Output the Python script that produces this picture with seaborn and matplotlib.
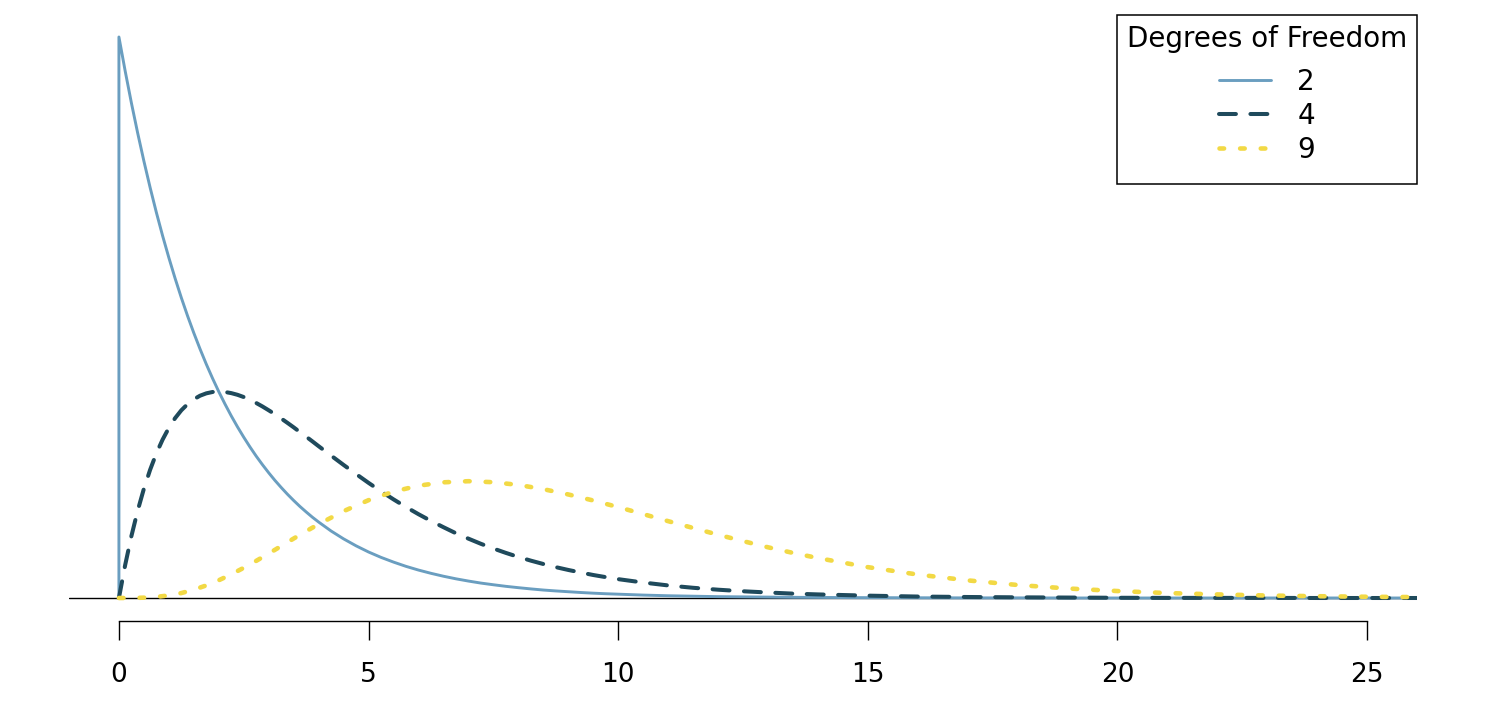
import numpy as np
import pandas as pd
import matplotlib
matplotlib.use("Agg")
import matplotlib.pyplot as plt
import seaborn as sns

# ---- data (chi-square densities) ----
# fine grid used for the df = 2 and df = 4 curves
x_fine = [0, 0.125, 0.25, 0.375, 0.5, 0.625, 0.75, 0.875, 1, 1.125, 1.25, 1.375, 1.5, 1.625,
          1.75, 1.875, 2, 2.125, 2.25, 2.375, 2.5, 2.625, 2.75, 2.875, 3, 3.125, 3.25, 3.375,
          3.5, 3.625, 3.75, 3.875, 4,
          4.25, 4.5, 4.75, 5, 5.25, 5.5, 5.75, 6, 6.25, 6.5, 6.75, 7, 7.25, 7.5, 7.75, 8,
          8.25, 8.5, 8.75, 9, 9.25, 9.5, 9.75, 10,
          10.5, 11, 11.5, 12, 12.5, 13, 13.5, 14,
          15, 16, 17, 18, 19, 20, 21, 22, 23, 24, 25, 26]

df2_y = [0.5000, 0.4697, 0.4412, 0.4145, 0.3894, 0.3658, 0.3436, 0.3228, 0.3033, 0.2849,
         0.2676, 0.2514, 0.2362, 0.2219, 0.2084, 0.1958, 0.1839, 0.1728, 0.1623, 0.1525,
         0.1433, 0.1346, 0.1264, 0.1188, 0.1116, 0.1048, 0.0985, 0.0925, 0.0869, 0.0816,
         0.0767, 0.0720, 0.0677,
         0.0597, 0.0527, 0.0465, 0.0410, 0.0362, 0.0320, 0.0282, 0.0249, 0.0220, 0.0194,
         0.0171, 0.0151, 0.0133, 0.0118, 0.0104, 0.0092, 0.0081, 0.0071, 0.0063, 0.0056,
         0.0049, 0.0043, 0.0038, 0.0034,
         0.0026, 0.0020, 0.0016, 0.0012, 0.0010, 0.0008, 0.0006, 0.0005,
         0.0003, 0.0002, 0.0001, 0.0001, 0.0, 0.0, 0.0, 0.0, 0.0, 0.0, 0.0, 0.0]

df4_y = [0.0, 0.0294, 0.0552, 0.0777, 0.0974, 0.1143, 0.1289, 0.1412, 0.1516, 0.1603,
         0.1673, 0.1728, 0.1771, 0.1803, 0.1824, 0.1836, 0.1839, 0.1836, 0.1826, 0.1811,
         0.1791, 0.1766, 0.1738, 0.1707, 0.1673, 0.1638, 0.1600, 0.1561, 0.1521, 0.1479,
         0.1438, 0.1396, 0.1353,
         0.1269, 0.1186, 0.1105, 0.1026, 0.0951, 0.0879, 0.0811, 0.0747, 0.0687, 0.0631,
         0.0577, 0.0529, 0.0483, 0.0441, 0.0402, 0.0366, 0.0333, 0.0303, 0.0275, 0.0250,
         0.0227, 0.0205, 0.0186, 0.0168,
         0.0138, 0.0112, 0.0091, 0.0074, 0.0060, 0.0049, 0.0039, 0.0032,
         0.0021, 0.0013, 0.0009, 0.0006, 0.0004, 0.0002, 0.0001, 0.0001, 0.0001, 0.0, 0.0, 0.0]

# coarser grid for the smoother df = 9 curve
x_coarse = [0, 0.25, 0.5, 0.75, 1, 1.25, 1.5, 1.75, 2, 2.25, 2.5, 2.75, 3, 3.25, 3.5, 3.75, 4,
            4.5, 5, 5.5, 6, 6.5, 7, 7.5, 8, 8.5, 9, 9.5, 10, 10.5, 11, 11.5, 12, 12.5, 13, 13.5,
            14, 15, 16, 17, 18, 19, 20, 21, 22, 23, 24, 25, 26]

df9_y = [0.0, 0.0000, 0.0003, 0.0010, 0.0023, 0.0044, 0.0074, 0.0112, 0.0158, 0.0211, 0.0269,
         0.0331, 0.0396, 0.0463, 0.0530, 0.0595, 0.0658,
         0.0774, 0.0872, 0.0948, 0.1001, 0.1031, 0.1041, 0.1032, 0.1008, 0.0970, 0.0923, 0.0869,
         0.0810, 0.0748, 0.0685, 0.0624, 0.0564, 0.0507, 0.0452, 0.0402, 0.0356,
         0.0275, 0.0209, 0.0157, 0.0116, 0.0085, 0.0062, 0.0044, 0.0032, 0.0022, 0.0016, 0.0011,
         0.0008]

dof_labels = ["2", "4", "9"]
x_ticks = [0, 5, 10, 15, 20, 25]
legend_title = "Degrees of Freedom"

# ---- style ----
sns.set_theme(style="white")
plt.rcParams["font.family"] = ["DejaVu Sans"]
plt.rcParams["text.color"] = "black"
plt.rcParams["xtick.color"] = "black"
plt.rcParams["axes.labelcolor"] = "black"

fig = plt.figure(figsize=(15.04, 7.06), dpi=100)
ax = fig.add_axes([69 / 1504, 1 - 621 / 706, (1417 - 69) / 1504, (621 - 15) / 706])

colors = ["#6a9ec0", "#1f4a5c", "#f2d945"]
widths = [2.1, 2.9, 3.3]
styles = ["-", (0, (4.2, 3.6)), (0, (1.0, 3.5))]

ax.axhline(0, color="black", lw=1.0, zorder=1)

# df = 2 curve starts with a vertical rise at x = 0
series = [([0] + x_fine, [0.0] + df2_y), (x_fine, df4_y), (x_coarse, df9_y)]
for (xs, ys), lab, c, w, ls in zip(series, dof_labels, colors, widths, styles):
    sns.lineplot(x=xs, y=ys, ax=ax, color=c, lw=w, linestyle=ls, label=lab,
                 sort=False, estimator=None, dash_capstyle="round",
                 solid_capstyle="round", solid_joinstyle="round", zorder=2)

ax.set_xlim(-1, 26)
ax.set_ylim(-0.0205, 0.5196)

for s in ["left", "top", "right"]:
    ax.spines[s].set_visible(False)
ax.spines["bottom"].set_bounds(0, 25)
ax.spines["bottom"].set_color("black")
ax.spines["bottom"].set_linewidth(1.0)
ax.set_xticks(x_ticks)
ax.set_xticklabels([str(t) for t in x_ticks])
ax.set_yticks([])
ax.tick_params(axis="x", direction="out", length=13.7, width=1.0, pad=15.5,
               labelsize=19, color="black", labelcolor="black", bottom=True)
ax.set_xlabel("")
ax.set_ylabel("")

leg = ax.legend(title=legend_title, loc="upper right", bbox_to_anchor=(1, 1),
                borderaxespad=0, frameon=True, fancybox=False, framealpha=1,
                edgecolor="black", fontsize=20, title_fontsize=20,
                handlelength=1.87, handletextpad=0.94, labelspacing=0.22,
                borderpad=0.35)
leg.get_frame().set_linewidth(1.1)
leg.get_title().set_color("black")
for t in leg.get_texts():
    t.set_color("black")
# extra vertical room around the entries, as in the reference legend
leg._legend_handle_box.pad = 7.3
leg._legend_box.sep = 3.5

fig.savefig("out.png", dpi=100, facecolor="white")
